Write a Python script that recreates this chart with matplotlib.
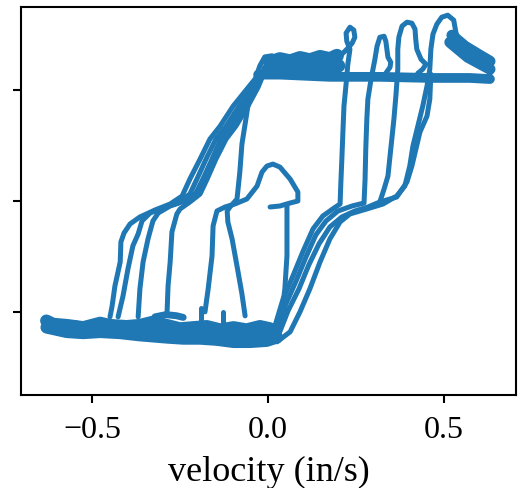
import matplotlib
matplotlib.use("Agg")
import matplotlib.pyplot as plt

plt.rcParams['font.family'] = ['Liberation Serif', 'DejaVu Serif']

# force axis is unlabelled; ticks sit at -100 / 0 / 100
# bottom plateau (noisy band, several passes)
bot_up_v = [-0.630, -0.610, -0.572, -0.525, -0.477, -0.449, -0.402, -0.364, -0.326,
            -0.288, -0.250, -0.212, -0.174, -0.136, -0.098, -0.061, -0.023, 0.006]
bot_up_f = [-108, -111, -112, -114, -110, -112, -113, -112, -109,
            -112, -115, -114, -113, -116, -114, -116, -113, -115]
bot_mid_v = [-0.620, -0.585, -0.550, -0.505, -0.460, -0.415, -0.370, -0.330, -0.295,
             -0.255, -0.220, -0.180, -0.145, -0.110, -0.075, -0.040, -0.010, 0.015]
bot_mid_f = [-112, -115, -113, -117, -114, -116, -118, -115, -119,
             -117, -121, -118, -121, -119, -122, -120, -121, -119]
bot_lo_v = [-0.629, -0.572, -0.525, -0.477, -0.420, -0.364, -0.326, -0.288,
            -0.241, -0.193, -0.146, -0.098, -0.051, -0.004, 0.025]
bot_lo_f = [-114, -118, -119, -118, -119, -121, -122, -123,
            -124, -124, -125, -127, -127, -126, -123]

# top plateau
top_lo_v = [-0.028, 0.034, 0.176, 0.318, 0.460, 0.574, 0.631]
top_lo_f = [114, 114, 112, 112, 111, 111, 110]
top_noise_v = [0.006, 0.034, 0.063, 0.091, 0.119, 0.148, 0.176, 0.196]
top_noise_f = [125, 128, 126, 129, 127, 130, 128, 131]
top_noise2_v = [0.000, 0.030, 0.060, 0.090, 0.120, 0.150, 0.180, 0.200]
top_noise2_f = [118, 120, 118, 121, 119, 121, 120, 122]
arch_v = [-0.034, -0.023, -0.009, 0.011, 0.028, 0.043]
arch_f = [112, 122, 130, 131, 128, 124]

# decreasing branches (top -> middle-left -> drop)
l1_v = [-0.028, -0.060, -0.099, -0.136, -0.165, -0.193, -0.222, -0.244, -0.278,
        -0.321, -0.364, -0.392, -0.409, -0.418, -0.420, -0.435, -0.443, -0.449]
l1_f = [113.5, 100.9, 85.6, 67.6, 55.9, 37.8, 19.8, 4.5, -2.7,
        -8.1, -14.4, -20.7, -28.8, -36.9, -55, -76.6, -94.6, -104.5]
l2_v = [-0.023, -0.045, -0.082, -0.119, -0.148, -0.176, -0.202, -0.222, -0.256,
        -0.298, -0.335, -0.358, -0.369, -0.384, -0.398, -0.412, -0.426]
l2_f = [113.5, 100.9, 85.6, 67.6, 55.9, 37.8, 19.8, 6.3, -1.8,
        -6.3, -10.8, -18, -29.7, -40.5, -61.3, -85.6, -104.5]
l3_v = [-0.017, -0.034, -0.068, -0.105, -0.134, -0.159, -0.185, -0.205, -0.236,
        -0.278, -0.312, -0.327, -0.341, -0.355, -0.364, -0.369]
l3_f = [113.5, 100.9, 85.6, 67.6, 55.9, 37.8, 19.8, 7.2, 0,
        -4.5, -10.8, -18, -34.2, -55, -79.3, -104.5]
l4_v = [-0.014, -0.028, -0.057, -0.091, -0.119, -0.148, -0.173, -0.193, -0.222,
        -0.250, -0.259, -0.273, -0.278, -0.284, -0.287]
l4_f = [113.5, 102.7, 85.6, 67.6, 55.9, 37.8, 19.8, 6.3, -0.9,
        -7.2, -11.7, -27.9, -55, -76.6, -101.8]
l5_v = [-0.017, -0.040, -0.054, -0.065, -0.074, -0.080, -0.088, -0.108, -0.116,
        -0.114, -0.102, -0.085, -0.074, -0.065]
l5_f = [113.5, 106.3, 91.9, 69.4, 51.4, 26.1, 1.8, -5.4, -9,
        -18.9, -34.2, -64, -83.8, -103.6]

# small loop near zero
pen_v = [0.006, 0.034, 0.063, 0.085, 0.085, 0.063, 0.034, 0.014, -0.003, -0.017,
         -0.031, -0.060, -0.094, -0.122, -0.145, -0.156, -0.159, -0.170, -0.179]
pen_f = [-5.4, -4.5, -1.8, 0, 8.1, 19.8, 30.6, 33.3, 31.5, 26.1,
         13.5, 1.8, -2.7, -5.4, -9, -22.5, -49.5, -79.3, -100]
pen_up_v = [0.054, 0.054, 0.054, 0.048, 0.040]
pen_up_f = [-3, -29.7, -49.5, -79.3, -100]

# increasing branches (bottom -> middle-right -> jump to top)
r4_v = [0.020, 0.043, 0.071, 0.099, 0.128, 0.156, 0.188, 0.205, 0.207, 0.210, 0.213,
        0.216, 0.222, 0.227, 0.233, 0.224, 0.222, 0.233, 0.244, 0.247, 0.239,
        0.227, 0.210, 0.190]
r4_f = [-112.6, -88.3, -67.6, -45.9, -25.2, -13.5, -6.3, -2.7, 15.3, 37.8, 62.2,
        85.6, 105.4, 123.4, 136.9, 144.1, 151.4, 156.8, 154.1, 147.7, 142.3,
        137.8, 132.4, 127.9]
r3_v = [0.026, 0.051, 0.080, 0.108, 0.136, 0.165, 0.199, 0.239, 0.273, 0.276, 0.278,
        0.281, 0.284, 0.293, 0.304, 0.310, 0.318, 0.330, 0.335, 0.338, 0.341,
        0.349, 0.347, 0.335]
r3_f = [-117.1, -92.8, -72.1, -50.5, -30.6, -18, -9, -4.5, -1.8, 19.8, 46.8,
        73.9, 91.9, 109.9, 127.9, 139.6, 147.7, 148.6, 144.1, 136.9, 129.7,
        125.2, 120.7, 115.3]
r2_v = [0.028, 0.057, 0.088, 0.116, 0.145, 0.176, 0.210, 0.247, 0.284, 0.318, 0.330,
        0.341, 0.349, 0.358, 0.364, 0.369, 0.369, 0.372, 0.381, 0.395, 0.409,
        0.418, 0.420, 0.423, 0.435, 0.449, 0.440, 0.426]
r2_f = [-122.5, -99.1, -79.3, -57.7, -38.7, -23.4, -14.4, -9, -5.4, -0.9, 10.8,
        22.5, 46.8, 73.9, 96.4, 118.9, 136.9, 147.7, 157.7, 161.3, 160.4,
        155, 145.9, 136.9, 127.9, 123.4, 118.9, 115.3]
r1_v = [0.026, 0.063, 0.091, 0.119, 0.148, 0.176, 0.205, 0.233, 0.281, 0.327, 0.366,
        0.389, 0.403, 0.412, 0.426, 0.440, 0.452, 0.460, 0.463, 0.469, 0.480,
        0.494, 0.511, 0.528, 0.534, 0.540, 0.574, 0.616, 0.631, 0.631]
r1_f = [-127, -118, -100, -79.3, -55, -34.2, -18.9, -11.7, -7.2, -2.7, 4.5,
        13.5, 31.5, 49.5, 67.6, 85.6, 103.6, 118.9, 136.9, 150.5, 159.5,
        165.8, 167.6, 163.1, 152.3, 145.9, 136.9, 129.7, 124.3, 114.4]
r1b_v = [0.318, 0.366, 0.395, 0.409, 0.432, 0.452, 0.460, 0.463]
r1b_f = [-0.9, 3.6, 17.1, 31.5, 62.2, 76.6, 91.9, 114.4]
diag_v = [0.523, 0.560, 0.602, 0.631]
diag_f = [149.5, 139.6, 131.5, 126.1]
diag2_v = [0.517, 0.568, 0.631]
diag2_f = [143.2, 129.7, 118.9]

# small spikes on the bottom plateau
spike1_v = [-0.190, -0.190]
spike1_f = [-96.4, -110.8]
spike2_v = [-0.128, -0.128]
spike2_f = [-100, -110.8]
bump_v = [-0.321, -0.290, -0.260, -0.241]
bump_f = [-104.5, -102.5, -103.5, -105]

color = '#1f77b4'
thin = 3.6
curves = [
    (bot_up_v, bot_up_f, 9), (bot_mid_v, bot_mid_f, 9), (bot_lo_v, bot_lo_f, 9),
    (top_lo_v, top_lo_f, 7), (top_noise_v, top_noise_f, 10),
    (top_noise2_v, top_noise2_f, 10), (arch_v, arch_f, thin),
    (l1_v, l1_f, thin), (l2_v, l2_f, thin), (l3_v, l3_f, thin), (l4_v, l4_f, thin),
    (l5_v, l5_f, thin), (pen_v, pen_f, thin), (pen_up_v, pen_up_f, thin),
    (r4_v, r4_f, thin), (r3_v, r3_f, thin), (r2_v, r2_f, thin), (r1_v, r1_f, thin),
    (r1b_v, r1b_f, thin), (diag_v, diag_f, 8), (diag2_v, diag2_f, 8),
    (spike1_v, spike1_f, thin), (spike2_v, spike2_f, thin), (bump_v, bump_f, 5),
]

fig = plt.figure(figsize=(5.29, 4.89), dpi=100)
ax = fig.add_axes([21 / 529, 1 - 396 / 489, 495 / 529, 388 / 489])

for v, f, lw in curves:
    ax.plot(v, f, color=color, lw=lw, solid_capstyle='round', solid_joinstyle='round')

ax.set_xlim(-0.702, 0.705)
ax.set_ylim(-175, 175)
ax.set_xticks([-0.5, 0.0, 0.5])
ax.set_yticks([-100, 0, 100])
ax.set_yticklabels([])
ax.tick_params(labelsize=23, length=6, width=1.5)
ax.tick_params(axis='x', pad=8.5)
for s in ax.spines.values():
    s.set_linewidth(1.5)
ax.set_xlabel('velocity (in/s)', fontsize=26, labelpad=8)

fig.savefig('out.png', dpi=100)
